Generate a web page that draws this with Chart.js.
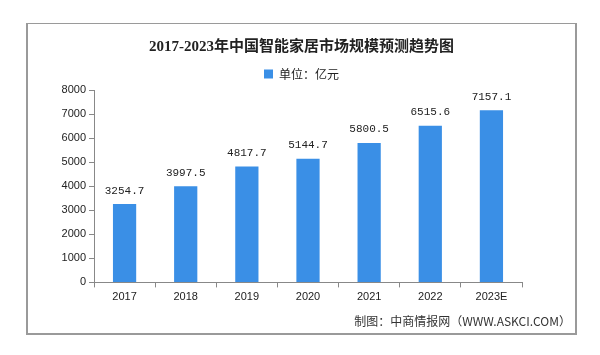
<!DOCTYPE html>
<html><head><meta charset="utf-8">
<script src="https://cdn.jsdelivr.net/npm/chart.js@4"></script>
<style>
html,body{margin:0;padding:0;background:#fff;}
#box{position:absolute;left:26px;top:23px;width:547px;height:309px;border:1px solid #9a9a9a;border-width:1px 2px 2px 2px;}
canvas{display:block;}
</style></head><body>
<div id="box"><canvas id="c" width="547" height="309"></canvas></div>
<script>
const categories = ['2017','2018','2019','2020','2021','2022','2023E'];
const values = [3254.7, 3997.5, 4817.7, 5144.7, 5800.5, 6515.6, 7157.1];
const yTicks = [0,1000,2000,3000,4000,5000,6000,7000,8000];
const seriesName = '单位：亿元';
const titleText = '2017-2023年中国智能家居市场规模预测趋势图';
const footerText = '制图：中商情报网（WWW.ASKCI.COM）';

const valueLabels = {
  id:'valueLabels',
  afterDatasetsDraw(chart){
    const ctx = chart.ctx;
    const meta = chart.getDatasetMeta(0);
    ctx.save();
    ctx.font = '11px "Liberation Mono", "DejaVu Sans Mono", monospace';
    ctx.fillStyle = '#222';
    ctx.textAlign = 'center';
    ctx.textBaseline = 'bottom';
    meta.data.forEach((bar,i)=>{
      ctx.fillText(values[i].toFixed(1), bar.x, bar.y - 8);
    });
    ctx.restore();
  }
};

new Chart(document.getElementById('c'), {
  type:'bar',
  data:{
    labels: categories,
    datasets:[{label: seriesName, data: values, backgroundColor:'#3a8fe6', borderWidth:0, categoryPercentage:1, barPercentage:0.38}]
  },
  options:{
    responsive:false,
    animation:false,
    devicePixelRatio:1,
    layout:{padding:{left:4,right:4,top:10,bottom:0}},
    plugins:{
      title:{display:true, text:titleText, color:'#222', font:{family:'"Liberation Serif","Noto Sans CJK SC",serif', size:15, weight:'bold'}, padding:{top:4,bottom:-4}},
      legend:{display:true, position:'top', labels:{boxWidth:9, boxHeight:9, color:'#222', font:{family:'"Noto Sans CJK SC",sans-serif', size:12}, padding:16}},
      subtitle:{display:true, position:'bottom', align:'end', text:footerText, color:'#333', font:{family:'"Noto Sans CJK SC",sans-serif', size:12}, padding:{top:8,bottom:4}},
      tooltip:{enabled:false}
    },
    scales:{
      x:{
        grid:{display:true, drawOnChartArea:false, drawTicks:true, tickLength:5, color:'#888', offset:true},
        border:{color:'#888'},
        ticks:{color:'#222', font:{family:'"Liberation Sans",sans-serif', size:11}, padding:3}
      },
      y:{
        min:0, max:8000,
        afterBuildTicks(axis){ axis.ticks = yTicks.map(v=>({value:v})); },
        afterFit(axis){ axis.width = 62; },
        grid:{display:true, drawOnChartArea:false, drawTicks:true, tickLength:5, color:'#888'},
        border:{color:'#888'},
        ticks:{color:'#222', font:{family:'"Liberation Sans",sans-serif', size:11}, padding:3, callback:(v)=>String(v)}
      },
      yRight:{
        position:'right', display:true, min:0, max:8000,
        afterFit(axis){ axis.width = 49; },
        grid:{display:false, drawTicks:false}, border:{display:false},
        ticks:{display:false}
      }
    }
  },
  plugins:[valueLabels]
});
</script>
</body></html>
